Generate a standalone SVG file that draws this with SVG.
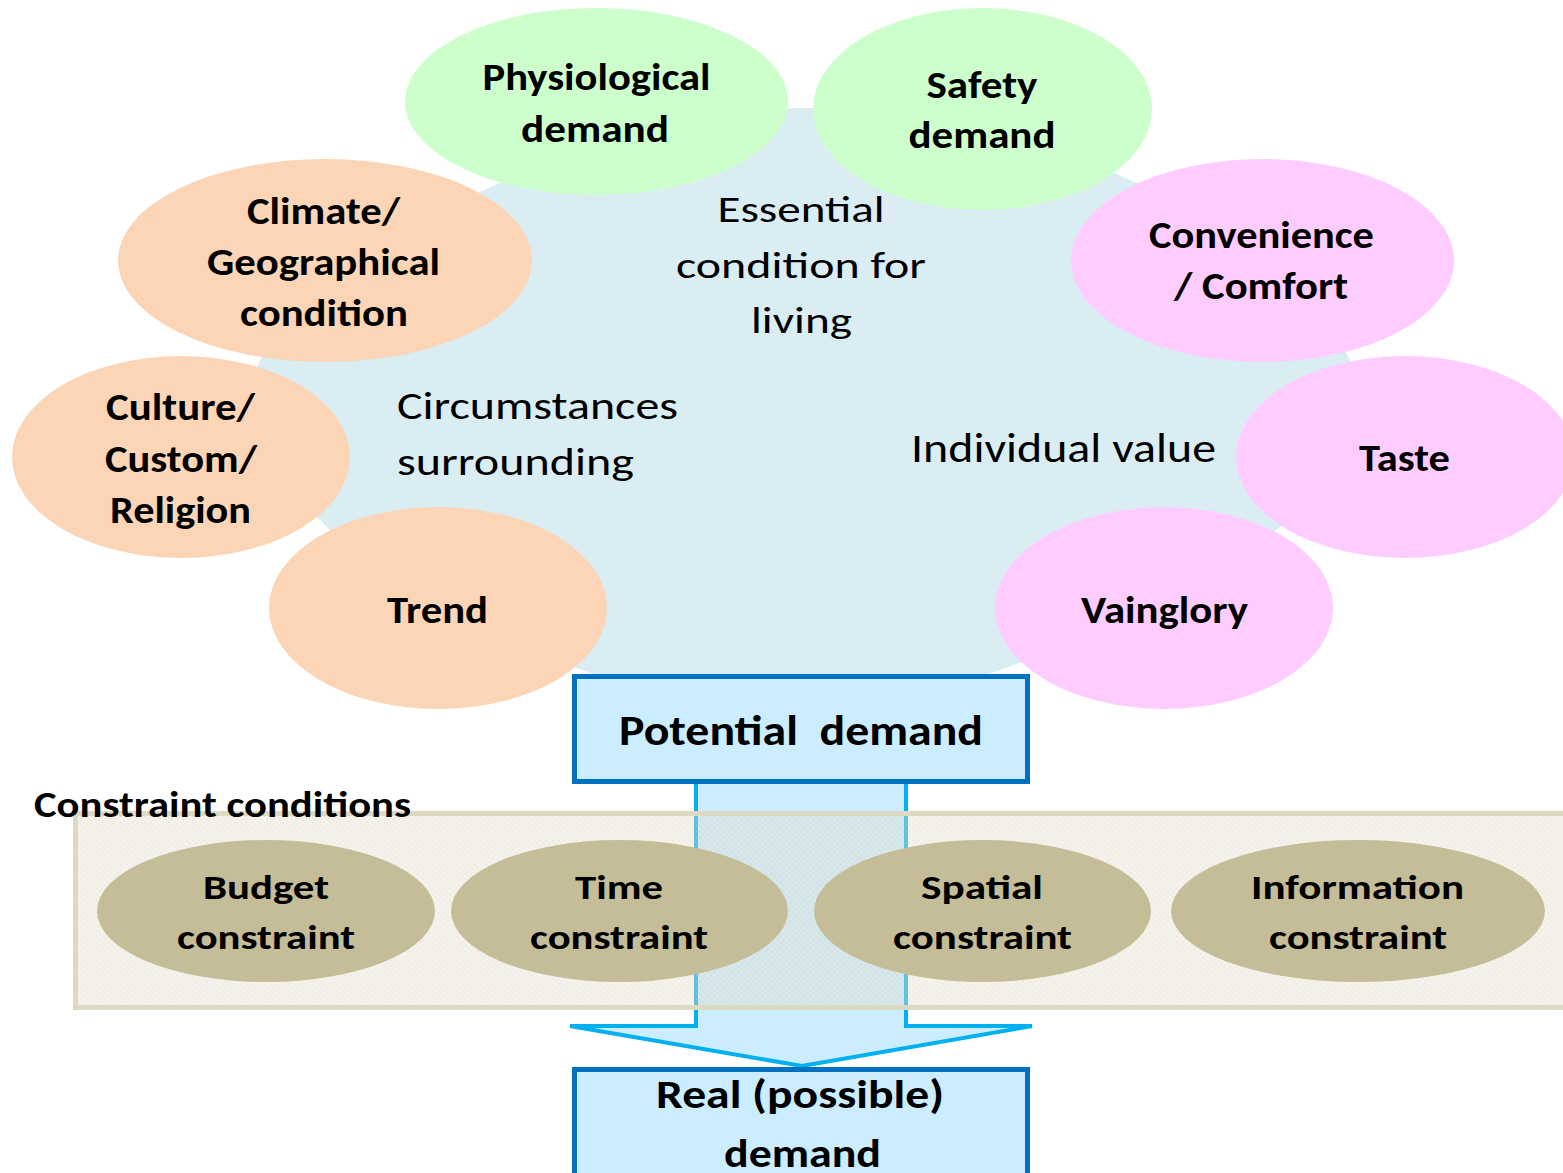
<svg xmlns="http://www.w3.org/2000/svg" width="1563" height="1173" viewBox="0 0 1563 1173">
  <defs>
    <style>
      text { font-family: Carlito, Lato, "Liberation Sans", sans-serif; fill: #000; }
      .lbl { font-weight: 700; font-size: 38px; text-anchor: middle; }
      .con { font-weight: 700; font-size: 34px; text-anchor: middle; }
      .reg { font-weight: 400; }
      .box-t { font-weight: 700; text-anchor: middle; }
      .green { fill: #CCFFCC; }
      .peach { fill: #FBD5B5; }
      .pink { fill: #FFCCFF; }
      .tan { fill: #C4BD97; }
      .demand-box { fill: #CCECFF; stroke: #0070C0; stroke-width: 5; }
    </style>
    <!-- fine paper-like texture for the constraint band -->
    <pattern id="paper" width="6" height="6" patternUnits="userSpaceOnUse">
      <rect width="6" height="6" fill="#E0DCC8" fill-opacity="0.4"/>
      <rect x="0" y="0" width="1" height="1" fill="#BDB89E" fill-opacity="0.25"/>
      <rect x="3" y="3" width="1" height="1" fill="#BDB89E" fill-opacity="0.25"/>
      <rect x="3" y="0" width="1" height="1" fill="#FFFFFF" fill-opacity="0.35"/>
      <rect x="0" y="3" width="1" height="1" fill="#FFFFFF" fill-opacity="0.35"/>
    </pattern>
  </defs>

  <rect width="1563" height="1173" fill="#FFFFFF"/>

  <!-- soft background blob behind the demand factors -->
  <path id="factor-area" fill="#DAEDF3"
        d="M805,108 C914.5,106.5 1045.8,140.2 1137,183 C1228.2,225.8 1328.2,307.7 1352,365 C1375.8,422.3 1338.7,476.2 1280,527 C1221.3,577.8 1081.7,642 1000,670 C918.3,698 861.2,695.5 790,695 C718.8,694.5 649.7,694.5 573,667 C496.3,639.5 382.5,580.3 330,530 C277.5,479.7 233,421.3 258,365 C283,308.7 388.8,234.8 480,192 C571.2,149.2 695.5,109.5 805,108 Z"/>

  <g id="area-labels">
    <text class="reg" font-size="37" text-anchor="middle" x="801" y="222" textLength="167" lengthAdjust="spacingAndGlyphs">Essential</text>
    <text class="reg" font-size="37" text-anchor="middle" x="801" y="278" textLength="250" lengthAdjust="spacingAndGlyphs">condition for</text>
    <text class="reg" font-size="37" text-anchor="middle" x="801.5" y="333" textLength="101" lengthAdjust="spacingAndGlyphs">living</text>
    <text class="reg" font-size="38" x="397" y="419" textLength="281" lengthAdjust="spacingAndGlyphs">Circumstances</text>
    <text class="reg" font-size="38" x="397" y="475" textLength="237" lengthAdjust="spacingAndGlyphs">surrounding</text>
    <text class="reg" font-size="40" x="911" y="462" textLength="305" lengthAdjust="spacingAndGlyphs">Individual value</text>
  </g>

  <g id="physiological-demand">
    <ellipse class="green" cx="596.5" cy="101.5" rx="191.5" ry="93.5"/>
    <text class="lbl" x="596.5" y="90" textLength="228" lengthAdjust="spacingAndGlyphs">Physiological</text>
    <text class="lbl" x="595" y="142" textLength="148" lengthAdjust="spacingAndGlyphs">demand</text>
  </g>

  <g id="safety-demand">
    <ellipse class="green" cx="982.5" cy="109" rx="169.5" ry="101"/>
    <text class="lbl" x="982" y="98" textLength="111" lengthAdjust="spacingAndGlyphs">Safety</text>
    <text class="lbl" x="982" y="148" textLength="147" lengthAdjust="spacingAndGlyphs">demand</text>
  </g>

  <g id="climate-geography">
    <ellipse class="peach" cx="325" cy="260.5" rx="207" ry="101.5"/>
    <text class="lbl" x="323.5" y="224" textLength="153" lengthAdjust="spacingAndGlyphs">Climate/</text>
    <text class="lbl" x="323.5" y="275" textLength="233" lengthAdjust="spacingAndGlyphs">Geographical</text>
    <text class="lbl" x="324" y="326" textLength="168" lengthAdjust="spacingAndGlyphs">condition</text>
  </g>

  <g id="convenience-comfort">
    <ellipse class="pink" cx="1262.5" cy="260.5" rx="191.5" ry="101.5"/>
    <text class="lbl" x="1261.5" y="248" textLength="225" lengthAdjust="spacingAndGlyphs">Convenience</text>
    <text class="lbl" x="1261" y="299" textLength="174" lengthAdjust="spacingAndGlyphs">/ Comfort</text>
  </g>

  <g id="culture-custom-religion">
    <ellipse class="peach" cx="181" cy="457" rx="169" ry="101"/>
    <text class="lbl" x="180.5" y="420" textLength="149" lengthAdjust="spacingAndGlyphs">Culture/</text>
    <text class="lbl" x="181" y="472" textLength="152" lengthAdjust="spacingAndGlyphs">Custom/</text>
    <text class="lbl" x="180.5" y="523" textLength="141" lengthAdjust="spacingAndGlyphs">Religion</text>
  </g>

  <g id="taste">
    <ellipse class="pink" cx="1405" cy="457" rx="169" ry="101"/>
    <text class="lbl" x="1404.5" y="471" textLength="91" lengthAdjust="spacingAndGlyphs">Taste</text>
  </g>

  <g id="trend">
    <ellipse class="peach" cx="438" cy="608" rx="169" ry="101"/>
    <text class="lbl" x="437.5" y="623" textLength="101" lengthAdjust="spacingAndGlyphs">Trend</text>
  </g>

  <g id="vainglory">
    <ellipse class="pink" cx="1164" cy="608" rx="169" ry="101"/>
    <text class="lbl" x="1164.5" y="623" textLength="167" lengthAdjust="spacingAndGlyphs">Vainglory</text>
  </g>

  <!-- block arrow from potential to real demand -->
  <g id="connectors">
    <path d="M696,781 V1026 H570 L802,1066 L1032,1026 H906 V781"
          fill="#CCECFF" stroke="#00B0F0" stroke-width="4" stroke-linejoin="miter"/>
  </g>

  <g id="constraint-band">
    <rect x="75.5" y="813.5" width="1500" height="194" fill="url(#paper)" stroke="#DDD9C3" stroke-width="5"/>
    <text font-weight="700" font-size="36" x="34" y="817" textLength="377" lengthAdjust="spacingAndGlyphs">Constraint conditions</text>
  </g>

  <g id="budget-constraint">
    <ellipse class="tan" cx="266" cy="911" rx="169" ry="71"/>
    <text class="con" x="266" y="899" textLength="126" lengthAdjust="spacingAndGlyphs">Budget</text>
    <text class="con" x="266" y="949" textLength="178" lengthAdjust="spacingAndGlyphs">constraint</text>
  </g>

  <g id="time-constraint">
    <ellipse class="tan" cx="619.5" cy="911" rx="168.5" ry="71"/>
    <text class="con" x="619" y="899" textLength="88" lengthAdjust="spacingAndGlyphs">Time</text>
    <text class="con" x="619" y="949" textLength="178" lengthAdjust="spacingAndGlyphs">constraint</text>
  </g>

  <g id="spatial-constraint">
    <ellipse class="tan" cx="982.5" cy="911" rx="168.5" ry="71"/>
    <text class="con" x="982" y="899" textLength="122" lengthAdjust="spacingAndGlyphs">Spatial</text>
    <text class="con" x="982.5" y="949" textLength="179" lengthAdjust="spacingAndGlyphs">constraint</text>
  </g>

  <g id="information-constraint">
    <ellipse class="tan" cx="1358" cy="911" rx="187" ry="71"/>
    <text class="con" x="1357.5" y="899" textLength="213" lengthAdjust="spacingAndGlyphs">Information</text>
    <text class="con" x="1358" y="949" textLength="178" lengthAdjust="spacingAndGlyphs">constraint</text>
  </g>

  <g id="potential-demand">
    <rect class="demand-box" x="574.5" y="676.5" width="453" height="105"/>
    <text class="box-t" font-size="42" x="801" y="745" textLength="364" lengthAdjust="spacingAndGlyphs" xml:space="preserve">Potential  demand</text>
  </g>

  <g id="real-demand">
    <rect class="demand-box" x="574.5" y="1069.5" width="453" height="120"/>
    <text class="box-t" font-size="40" x="800" y="1108" textLength="288" lengthAdjust="spacingAndGlyphs">Real (possible)</text>
    <text class="box-t" font-size="40" x="802.5" y="1167" textLength="157" lengthAdjust="spacingAndGlyphs">demand</text>
  </g>
</svg>
